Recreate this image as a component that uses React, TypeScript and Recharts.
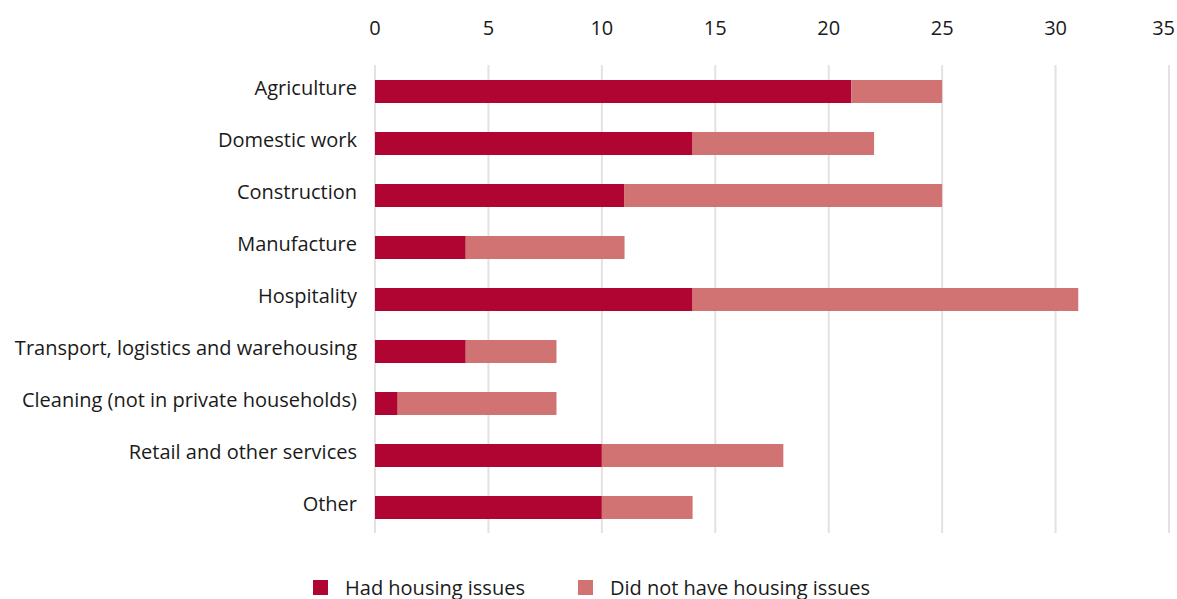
import React from "react";
import { BarChart, Bar, XAxis, YAxis, CartesianGrid, Legend } from "recharts";

const categories = [
  "Agriculture",
  "Domestic work",
  "Construction",
  "Manufacture",
  "Hospitality",
  "Transport, logistics and warehousing",
  "Cleaning (not in private households)",
  "Retail and other services",
  "Other",
];
const hadIssues = [21, 14, 11, 4, 14, 4, 1, 10, 10];
const noIssues = [4, 8, 14, 7, 17, 4, 7, 8, 4];
const xTicks = [0, 5, 10, 15, 20, 25, 30, 35];
const seriesNames = ["Had housing issues", "Did not have housing issues"];

const DARK = "#B00532";
const LIGHT = "#D17373";
const TEXT = "#1a1a1a";
const FONT = "'Open Sans', sans-serif";

const data = categories.map((c, i) => ({
  name: c,
  had: hadIssues[i],
  not: noIssues[i],
}));

const TopTick = (props: any) => {
  const { x, y, payload } = props;
  const last = payload.value === xTicks[xTicks.length - 1];
  return (
    <text
      x={last ? x + 6 : x}
      y={y}
      textAnchor={last ? "end" : "middle"}
      fill={TEXT}
      fontSize={20}
      fontFamily={FONT}
    >
      {payload.value}
    </text>
  );
};

const LegendContent = () => (
  <div
    style={{
      display: "flex",
      justifyContent: "center",
      alignItems: "center",
      height: 24,
      fontFamily: FONT,
      fontSize: 20,
      color: TEXT,
      paddingLeft: 6,
    }}
  >
    {[DARK, LIGHT].map((col, i) => (
      <div key={i} style={{ display: "flex", alignItems: "center", marginLeft: i ? 53 : 0 }}>
        <span style={{ width: 15, height: 15, background: col, display: "inline-block", marginRight: 17 }} />
        <span>{seriesNames[i]}</span>
      </div>
    ))}
  </div>
);

export default function App() {
  return (
    <div style={{ position: "absolute", left: 0, top: 0, width: 1177, height: 599, background: "#fff", overflow: "hidden" }}>
      <BarChart
        width={1177}
        height={599}
        data={data}
        layout="vertical"
        margin={{ top: 0, right: 8, bottom: 42, left: 0 }}
        barSize={23}
        style={{ overflow: "visible" }}
      >
        <CartesianGrid horizontal={false} stroke="#e2e2e2" strokeWidth={2} />
        <XAxis
          type="number"
          orientation="top"
          domain={[0, 35]}
          ticks={xTicks}
          axisLine={false}
          tickLine={false}
          tickSize={0}
          tickMargin={30}
          height={65}
          interval={0}
          tick={<TopTick />}
        />
        <YAxis
          type="category"
          dataKey="name"
          width={375}
          axisLine={false}
          tickLine={false}
          tickSize={0}
          tickMargin={18}
          interval={0}
          tick={{ fill: TEXT, fontSize: 20, fontFamily: FONT, dy: -3 }}
        />
        <Legend
          verticalAlign="bottom"
          content={<LegendContent />}
          wrapperStyle={{ width: 1177, left: 0, top: 575, height: 24 }}
        />
        <Bar dataKey="had" name={seriesNames[0]} stackId="a" fill={DARK} isAnimationActive={false} />
        <Bar dataKey="not" name={seriesNames[1]} stackId="a" fill={LIGHT} isAnimationActive={false} />
      </BarChart>
    </div>
  );
}
